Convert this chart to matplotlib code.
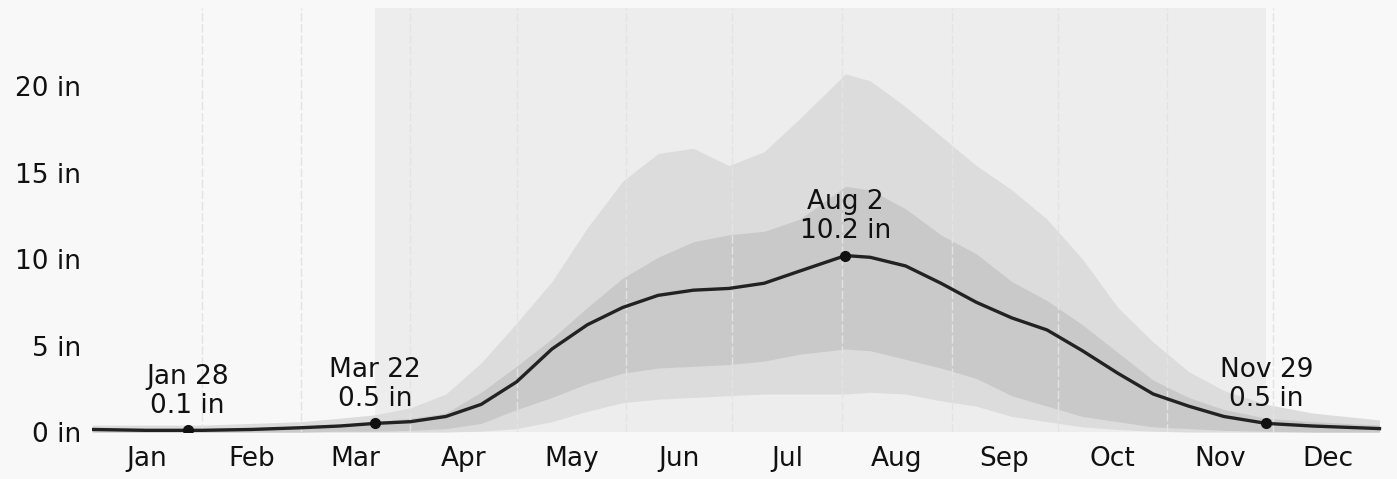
import matplotlib
matplotlib.use("Agg")
import matplotlib.pyplot as plt

days = [0, 15, 31, 45, 59, 70, 80, 90, 100, 110, 120, 130, 140, 150, 160, 170,
        180, 190, 200, 213, 220, 230, 240, 250, 260, 270, 280, 290, 300, 310,
        320, 332, 345, 364]

# average rainfall over a sliding 31-day window (inches)
avg = [0.15, 0.1, 0.1, 0.15, 0.25, 0.35, 0.5, 0.6, 0.9, 1.6, 2.9, 4.8, 6.2, 7.2,
       7.9, 8.2, 8.3, 8.6, 9.3, 10.2, 10.1, 9.6, 8.6, 7.5, 6.6, 5.9, 4.7, 3.4,
       2.2, 1.5, 0.9, 0.5, 0.35, 0.2]

p90 = [0.4, 0.4, 0.4, 0.5, 0.6, 0.8, 1.0, 1.4, 2.2, 4.0, 6.3, 8.7, 11.8, 14.5,
       16.1, 16.4, 15.4, 16.2, 18.1, 20.7, 20.3, 18.8, 17.1, 15.4, 14.0, 12.3,
       10.0, 7.2, 5.2, 3.5, 2.4, 1.6, 1.1, 0.7]

p75 = [0.2, 0.2, 0.2, 0.25, 0.35, 0.45, 0.6, 0.8, 1.1, 2.3, 3.8, 5.4, 7.2, 8.9,
       10.1, 11.0, 11.4, 11.6, 12.3, 14.2, 14.0, 12.9, 11.4, 10.3, 8.7, 7.6,
       6.2, 4.6, 3.0, 2.0, 1.3, 0.8, 0.6, 0.4]

p25 = [0, 0, 0, 0, 0, 0.05, 0.05, 0.1, 0.2, 0.5, 1.3, 2.0, 2.8, 3.4, 3.7, 3.8,
       3.9, 4.1, 4.5, 4.8, 4.7, 4.2, 3.7, 3.1, 2.1, 1.5, 0.9, 0.6, 0.3, 0.2,
       0.1, 0.05, 0, 0]

p10 = [0, 0, 0, 0, 0, 0, 0, 0, 0, 0.05, 0.2, 0.6, 1.2, 1.7, 1.9, 2.0, 2.1, 2.2,
       2.2, 2.2, 2.3, 2.2, 1.8, 1.5, 0.9, 0.6, 0.3, 0.15, 0.05, 0, 0, 0, 0, 0]

# wetter season and highlighted days
season = (80, 332)
marks_day = [27, 80, 213, 332]
marks_val = [0.1, 0.5, 10.2, 0.5]
marks_txt = ["Jan 28\n0.1 in", "Mar 22\n0.5 in", "Aug 2\n10.2 in", "Nov 29\n0.5 in"]

months = ["Jan", "Feb", "Mar", "Apr", "May", "Jun", "Jul", "Aug", "Sep", "Oct",
          "Nov", "Dec"]
month_len = [31, 28, 31, 30, 31, 30, 31, 31, 30, 31, 30, 31]
yticks = [0, 5, 10, 15, 20]

starts = [sum(month_len[:i]) for i in range(12)]
mids = [s + n / 2 for s, n in zip(starts, month_len)]

bg = "#f8f8f8"
fig = plt.figure(figsize=(13.97, 4.79), dpi=100, facecolor=bg)
ax = fig.add_axes([0.066, 0.098, 0.924, 0.885])
ax.set_facecolor(bg)

ax.axvspan(*season, color="#ededed", lw=0, zorder=0)
ax.fill_between(days, p10, p90, color="#dcdcdc", lw=0, zorder=1)
ax.fill_between(days, p25, p75, color="#c9c9c9", lw=0, zorder=1.5)
for s in starts[1:]:
    ax.axvline(s, color="#e3e3e3", lw=1, ls=(0, (6, 2)), zorder=2)
ax.plot(days, avg, color="#222222", lw=2.4, zorder=3)
ax.plot(marks_day, marks_val, "o", color="#111111", ms=7, zorder=4)

for d, v, t in zip(marks_day, marks_val, marks_txt):
    ax.annotate(t, (d, v), xytext=(0, 8), textcoords="offset points",
                ha="center", va="bottom", fontsize=19, color="#111111",
                linespacing=1.15, zorder=5)

ax.set_xlim(0, 365)
ax.set_ylim(0, 24.5)
ax.set_xticks(mids)
ax.set_xticklabels(months)
ax.set_yticks(yticks)
ax.set_yticklabels([f"{v} in" for v in yticks])
ax.tick_params(axis="both", length=0, labelsize=19, colors="#111111")
ax.tick_params(axis="x", pad=10)
ax.tick_params(axis="y", pad=8)
for sp in ax.spines.values():
    sp.set_visible(False)

fig.savefig("out.png", dpi=100, facecolor=bg)
